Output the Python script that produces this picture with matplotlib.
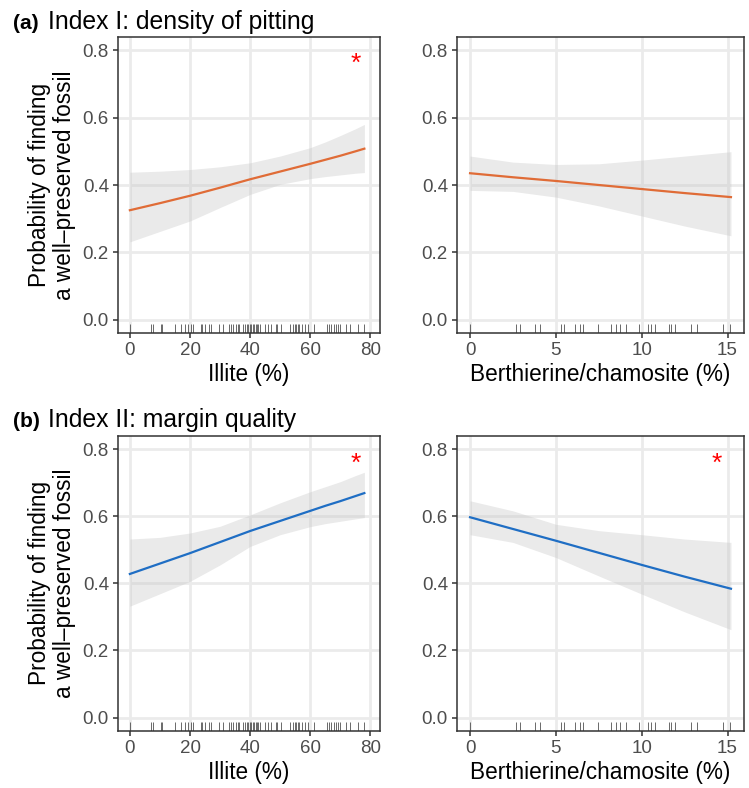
import matplotlib
matplotlib.use("Agg")
import matplotlib.pyplot as plt
import numpy as np

plt.rcParams['font.family'] = ['Liberation Sans', 'DejaVu Sans']

# ---------------- data ----------------
illite_rug = [0, 6.9, 7.8, 10.3, 10.8, 15, 17.1, 18.4, 19.4, 20.3, 21.1, 23.8, 24, 25, 26.4,
              26.9, 29.6, 31.1, 33.1, 33.7, 34.2, 35.2, 36.1, 36.4, 37.6, 38.3, 38.9, 39.4,
              39.8, 40.3, 40.8, 41.3, 41.9, 42.2, 42.6, 43.4, 44.8, 45.9, 47, 48.6, 49.1,
              50.3, 53.3, 54.1, 55, 55.3, 55.9, 56.4, 57.4, 58.3, 59.4, 61.1, 65.6, 66.3,
              67, 67.8, 68.6, 69.2, 70, 71.9, 73.3, 75.8, 77.8]
berth_rug = [0, 2.69, 2.90, 3.77, 4.06, 5.27, 5.50, 6.10, 6.39, 6.60, 7.43, 8.21, 8.48, 8.75,
             9.06, 9.83, 10.35, 10.53, 10.78, 11.59, 11.69, 11.94, 12.87, 13.22, 14.71, 15.17]

illite_x = [0, 10, 20, 30, 40, 50, 60, 65, 70, 75, 78]
berth_x = [0, 2.5, 5, 7.5, 10, 12.5, 15.2]

# Index I (density of pitting)
i1_illite_fit = [0.325, 0.346, 0.368, 0.392, 0.417, 0.440, 0.463, 0.475, 0.487, 0.500, 0.508]
i1_illite_lo = [0.231, 0.262, 0.293, 0.333, 0.372, 0.402, 0.419, 0.425, 0.430, 0.435, 0.437]
i1_illite_hi = [0.438, 0.441, 0.446, 0.454, 0.466, 0.486, 0.511, 0.528, 0.547, 0.567, 0.580]
i1_berth_fit = [0.435, 0.423, 0.412, 0.400, 0.388, 0.376, 0.364]
i1_berth_lo = [0.384, 0.381, 0.364, 0.338, 0.308, 0.278, 0.249]
i1_berth_hi = [0.486, 0.468, 0.461, 0.463, 0.474, 0.486, 0.499]

# Index II (margin quality)
i2_illite_fit = [0.428, 0.459, 0.490, 0.523, 0.556, 0.586, 0.616, 0.631, 0.645, 0.660, 0.669]
i2_illite_lo = [0.332, 0.369, 0.406, 0.455, 0.510, 0.545, 0.569, 0.578, 0.585, 0.592, 0.596]
i2_illite_hi = [0.532, 0.537, 0.550, 0.570, 0.604, 0.640, 0.673, 0.688, 0.703, 0.721, 0.731]
i2_berth_fit = [0.597, 0.562, 0.527, 0.491, 0.455, 0.420, 0.384]
i2_berth_lo = [0.545, 0.522, 0.477, 0.422, 0.368, 0.315, 0.262]
i2_berth_hi = [0.646, 0.616, 0.576, 0.557, 0.545, 0.532, 0.522]

# significance markers (x, y) or None
sig_i1_illite = (75, 0.768)
sig_i1_berth = None
sig_i2_illite = (75, 0.765)
sig_i2_berth = (14.4, 0.765)

titles = [("(a)", "Index I: density of pitting"), ("(b)", "Index II: margin quality")]
ylab = "Probability of finding\na well\u2013preserved fossil"
xlab_illite = "Illite (%)"
xlab_berth = "Berthierine/chamosite (%)"

orange = "#E06C37"
blue = "#1F6EC4"

# ---------------- figure ----------------
W, H = 749, 788
fig = plt.figure(figsize=(W / 100, H / 100), dpi=100)

def px_axes(l, r, t, b):
    return fig.add_axes([l / W, 1 - b / H, (r - l) / W, (b - t) / H])

def style(ax, xlim, xticks):
    ax.set_xlim(*xlim)
    ax.set_ylim(-0.04, 0.84)
    ax.set_xticks(xticks)
    ax.set_yticks([0.0, 0.2, 0.4, 0.6, 0.8])
    ax.set_yticklabels(["0.0", "0.2", "0.4", "0.6", "0.8"])
    ax.grid(True, color="#EBEBEB", lw=2.0, zorder=0)
    ax.set_axisbelow(True)
    for s in ax.spines.values():
        s.set_color("#333333")
        s.set_linewidth(1.1)
        s.set_zorder(5)
    ax.tick_params(axis="both", colors="#333333", length=3.5, width=1.1,
                   labelsize=13.5, labelcolor="#4D4D4D", pad=3.0)

def panel(ax, x, fit, lo, hi, rug, color, sig):
    ax.fill_between(x, lo, hi, color="#C8C8C8", alpha=0.38, lw=0, zorder=2)
    ax.plot(x, fit, color=color, lw=1.6, zorder=3)
    ax.vlines(rug, 0, 0.03, transform=ax.get_xaxis_transform(), color="#333333",
              lw=0.6, alpha=0.85, zorder=4)
    if sig is not None:
        ax.text(sig[0], sig[1], "*", color="#FF0000", fontsize=19, ha="center",
                va="center_baseline", zorder=6)

rows = [
    (37, 333, i1_illite_fit, i1_illite_lo, i1_illite_hi, i1_berth_fit, i1_berth_lo,
     i1_berth_hi, orange, sig_i1_illite, sig_i1_berth),
    (435.7, 731, i2_illite_fit, i2_illite_lo, i2_illite_hi, i2_berth_fit, i2_berth_lo,
     i2_berth_hi, blue, sig_i2_illite, sig_i2_berth),
]

for ri, (t, b, f1, l1, h1, f2, l2, h2, col, s1, s2) in enumerate(rows):
    axL = px_axes(118, 380, t, b)
    style(axL, (-3.95, 83.2), [0, 20, 40, 60, 80])
    panel(axL, illite_x, f1, l1, h1, illite_rug, col, s1)
    axL.set_xlabel(xlab_illite, fontsize=16.3, labelpad=3)
    axL.set_ylabel(ylab, fontsize=16.3, labelpad=5, linespacing=1.12)

    axR = px_axes(457, 744, t, b)
    style(axR, (-0.76, 15.96), [0, 5, 10, 15])
    panel(axR, berth_x, f2, l2, h2, berth_rug, col, s2)
    axR.set_xlabel(xlab_berth, fontsize=16.3, labelpad=3)

    base = 29 if ri == 0 else 427
    tag, txt = titles[ri]
    fig.text(13 / W, 1 - base / H, tag, fontsize=15, fontweight="bold", va="baseline")
    fig.text(48 / W, 1 - base / H, txt, fontsize=17.8, va="baseline")

fig.savefig("out.png", dpi=100)
